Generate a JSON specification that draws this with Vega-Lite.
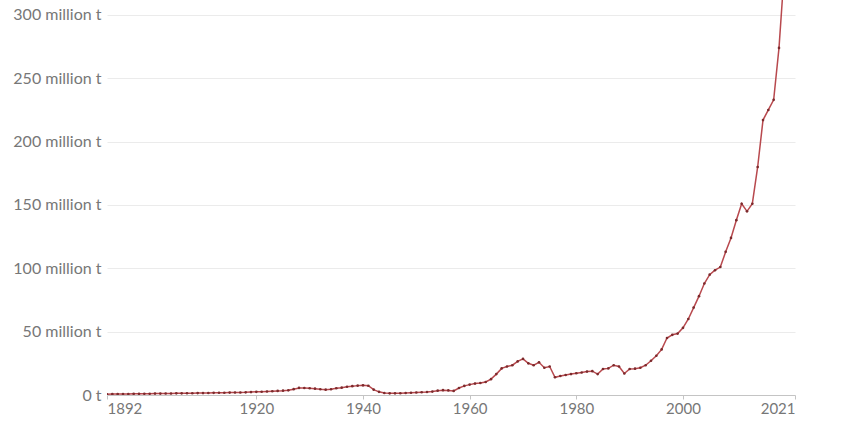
{
  "$schema": "https://vega.github.io/schema/vega-lite/v6.json",
  "width": 688,
  "height": 395,
  "autosize": {"type": "none"},
  "padding": {"left": 107, "top": 0, "right": 62, "bottom": 26},
  "background": "#ffffff",
  "config": {
    "view": {"stroke": null},
    "font": "Lato",
    "axis": {"labelFont": "Lato", "labelColor": "#777777", "titleFont": "Lato"}
  },
  "data": {
    "values": [
      {"year": 1892, "value": 0.6}, {"year": 1893, "value": 0.7}, {"year": 1894, "value": 0.7}, {"year": 1895, "value": 0.8},
      {"year": 1896, "value": 0.8}, {"year": 1897, "value": 0.9}, {"year": 1898, "value": 0.9}, {"year": 1899, "value": 1.0},
      {"year": 1900, "value": 1.0}, {"year": 1901, "value": 1.1}, {"year": 1902, "value": 1.1}, {"year": 1903, "value": 1.2},
      {"year": 1904, "value": 1.2}, {"year": 1905, "value": 1.3}, {"year": 1906, "value": 1.3}, {"year": 1907, "value": 1.4},
      {"year": 1908, "value": 1.4}, {"year": 1909, "value": 1.5}, {"year": 1910, "value": 1.5}, {"year": 1911, "value": 1.6},
      {"year": 1912, "value": 1.7}, {"year": 1913, "value": 1.8}, {"year": 1914, "value": 1.8}, {"year": 1915, "value": 1.9},
      {"year": 1916, "value": 2.0}, {"year": 1917, "value": 2.0}, {"year": 1918, "value": 2.1}, {"year": 1919, "value": 2.3},
      {"year": 1920, "value": 2.5}, {"year": 1921, "value": 2.6}, {"year": 1922, "value": 2.8}, {"year": 1923, "value": 3.0},
      {"year": 1924, "value": 3.2}, {"year": 1925, "value": 3.4}, {"year": 1926, "value": 3.7}, {"year": 1927, "value": 4.6},
      {"year": 1928, "value": 5.6}, {"year": 1929, "value": 5.5}, {"year": 1930, "value": 5.3}, {"year": 1931, "value": 5.0},
      {"year": 1932, "value": 4.5}, {"year": 1933, "value": 4.2}, {"year": 1934, "value": 4.5}, {"year": 1935, "value": 5.3},
      {"year": 1936, "value": 5.8}, {"year": 1937, "value": 6.5}, {"year": 1938, "value": 7.0}, {"year": 1939, "value": 7.4},
      {"year": 1940, "value": 7.6}, {"year": 1941, "value": 7.3}, {"year": 1942, "value": 4.2}, {"year": 1943, "value": 2.5},
      {"year": 1944, "value": 1.6}, {"year": 1945, "value": 1.3}, {"year": 1946, "value": 1.3}, {"year": 1947, "value": 1.4},
      {"year": 1948, "value": 1.6}, {"year": 1949, "value": 1.8}, {"year": 1950, "value": 2.0}, {"year": 1951, "value": 2.2},
      {"year": 1952, "value": 2.4}, {"year": 1953, "value": 2.7}, {"year": 1954, "value": 3.4}, {"year": 1955, "value": 3.8},
      {"year": 1956, "value": 3.6}, {"year": 1957, "value": 3.2}, {"year": 1958, "value": 5.5}, {"year": 1959, "value": 7.2},
      {"year": 1960, "value": 8.2}, {"year": 1961, "value": 9.0}, {"year": 1962, "value": 9.5}, {"year": 1963, "value": 10.3},
      {"year": 1964, "value": 12.5}, {"year": 1965, "value": 16.5}, {"year": 1966, "value": 21.0}, {"year": 1967, "value": 22.5},
      {"year": 1968, "value": 23.5}, {"year": 1969, "value": 26.5}, {"year": 1970, "value": 28.5}, {"year": 1971, "value": 25.0},
      {"year": 1972, "value": 23.5}, {"year": 1973, "value": 25.8}, {"year": 1974, "value": 21.5}, {"year": 1975, "value": 22.5},
      {"year": 1976, "value": 14.0}, {"year": 1977, "value": 15.0}, {"year": 1978, "value": 15.8}, {"year": 1979, "value": 16.5},
      {"year": 1980, "value": 17.2}, {"year": 1981, "value": 17.8}, {"year": 1982, "value": 18.5}, {"year": 1983, "value": 18.8},
      {"year": 1984, "value": 16.5}, {"year": 1985, "value": 20.5}, {"year": 1986, "value": 21.0}, {"year": 1987, "value": 23.5},
      {"year": 1988, "value": 22.5}, {"year": 1989, "value": 17.0}, {"year": 1990, "value": 20.5}, {"year": 1991, "value": 20.8},
      {"year": 1992, "value": 21.5}, {"year": 1993, "value": 23.5}, {"year": 1994, "value": 27.0}, {"year": 1995, "value": 31.0},
      {"year": 1996, "value": 36.0}, {"year": 1997, "value": 45.0}, {"year": 1998, "value": 47.5}, {"year": 1999, "value": 48.5},
      {"year": 2000, "value": 53.0}, {"year": 2001, "value": 60.0}, {"year": 2002, "value": 69.0}, {"year": 2003, "value": 78.0},
      {"year": 2004, "value": 88.0}, {"year": 2005, "value": 95.0}, {"year": 2006, "value": 98.5}, {"year": 2007, "value": 101.0},
      {"year": 2008, "value": 113.0}, {"year": 2009, "value": 124.0}, {"year": 2010, "value": 138.0}, {"year": 2011, "value": 151.0},
      {"year": 2012, "value": 145.0}, {"year": 2013, "value": 151.0}, {"year": 2014, "value": 180.0}, {"year": 2015, "value": 217.0},
      {"year": 2016, "value": 225.0}, {"year": 2017, "value": 233.0}, {"year": 2018, "value": 274.0}, {"year": 2019, "value": 335.0},
      {"year": 2020, "value": 345.0}, {"year": 2021, "value": 340.0}
    ]
  },
  "encoding": {
    "x": {
      "field": "year", "type": "quantitative",
      "scale": {"domain": [1892, 2021], "nice": false, "zero": false},
      "axis": {
        "title": null, "grid": false,
        "values": [1892, 1920, 1940, 1960, 1980, 2000, 2021],
        "format": "d", "labelFlush": true, "labelFontSize": 15,
        "domainColor": "#c4c4c4", "tickColor": "#c4c4c4", "tickSize": 4, "labelPadding": 2
      }
    },
    "y": {
      "field": "value", "type": "quantitative",
      "scale": {"domain": [0, 311.8], "nice": false},
      "axis": {
        "title": null, "domain": false, "ticks": false,
        "values": [0, 50, 100, 150, 200, 250, 300],
        "labelExpr": "datum.value == 0 ? '0 t' : datum.value + ' million t'",
        "labelPadding": 6, "labelFontSize": 16,
        "gridColor": "#ebebeb", "gridWidth": 1
      }
    }
  },
  "layer": [
    {"mark": {"type": "line", "color": "#b8494e", "strokeWidth": 1.5, "clip": true}},
    {"mark": {"type": "point", "filled": true, "color": "#7c2a2c", "size": 7, "opacity": 1, "clip": true}}
  ]
}
